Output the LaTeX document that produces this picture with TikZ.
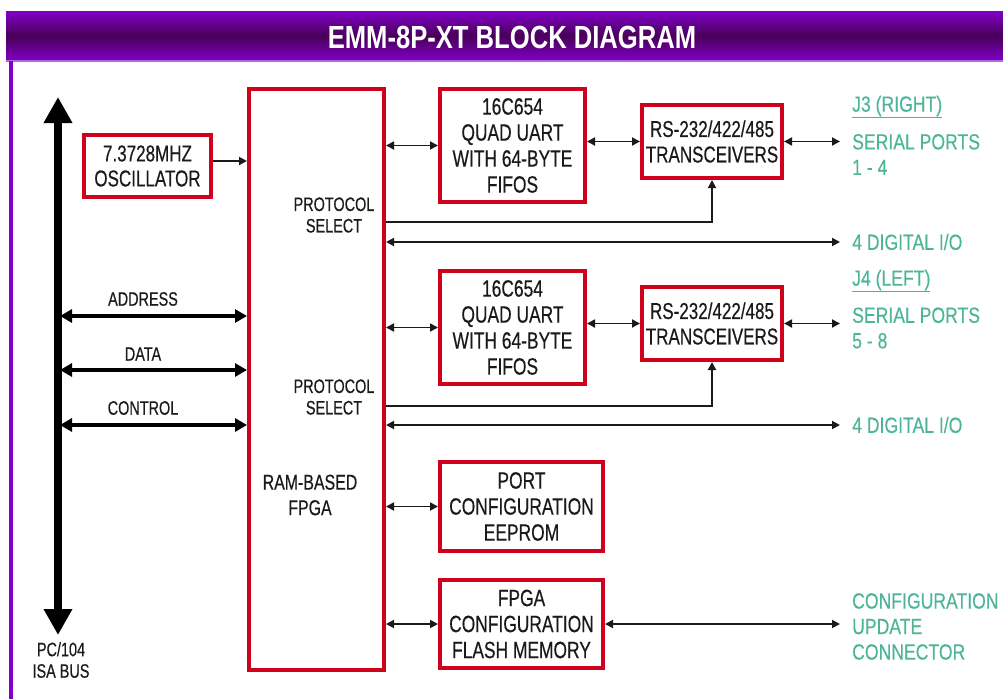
\documentclass[tikz,border=0pt]{standalone}
\usepackage{fontspec}
\setmainfont{Liberation Sans}[FakeStretch=0.74, FakeBold=0.4]
\newfontfamily\titlefont{Liberation Sans}[FakeStretch=0.8]
\newfontfamily\tealfont{Liberation Sans}[FakeStretch=0.8, FakeBold=0.3]
\usetikzlibrary{arrows.meta}
\definecolor{bred}{HTML}{D0021B}
\definecolor{tealtxt}{HTML}{4DB597}
\definecolor{hpurple}{HTML}{8200C8}
\definecolor{hdark}{HTML}{480058}
\definecolor{txt}{HTML}{1A1A1A}
\tikzset{
  blk/.style={draw=bred, line width=4pt, fill=white, inner sep=0pt, align=center,
    font=\fontsize{23.5}{26}\selectfont, text=txt},
  sig/.style={line width=1.8pt, draw=txt, {Triangle[length=8pt,width=8pt]}-{Triangle[length=8pt,width=8pt]}},
  sigone/.style={line width=1.8pt, draw=txt, -{Triangle[length=8pt,width=8pt]}},
  busline/.style={line width=4pt, draw=black, {Triangle[length=12pt,width=13pt]}-{Triangle[length=12pt,width=13pt]}},
  isabus/.style={line width=8pt, draw=black, {Triangle[length=26pt,width=27pt]}-{Triangle[length=26pt,width=27pt]}},
  lbl/.style={font=\fontsize{19.5}{21.5}\selectfont, text=txt, align=center, inner sep=0pt},
  ext/.style={font=\tealfont\fontsize{22}{25.5}\selectfont, text=tealtxt, anchor=west, align=left, inner sep=0pt},
}
\begin{document}
\begin{tikzpicture}[x=1pt,y=-1pt]
\useasboundingbox (0,0) rectangle (1003,699);
% header
\shade[top color=hpurple, bottom color=hpurple, middle color=hdark] (6,11) rectangle (1003,61);
\fill[hpurple!60!white] (6,60) rectangle (1003,62);
\fill[hpurple] (9,61) rectangle (13,699);
\node[font=\titlefont\bfseries\fontsize{32}{36}\selectfont, text=white] (title) at (512,37) {EMM-8P-XT BLOCK DIAGRAM};

% blocks
\node[blk, minimum width=127pt, minimum height=62pt, font=\fontsize{23}{25}\selectfont] (osc) at (147.5,166) {7.3728MHZ\\OSCILLATOR};
\node[blk, minimum width=135pt, minimum height=581pt] (fpga) at (316.5,379.5) {};
\node[blk, minimum width=145pt, minimum height=113pt] (uart1) at (512.5,145.5) {16C654\\QUAD UART\\WITH 64-BYTE\\FIFOS};
\node[blk, minimum width=140pt, minimum height=73pt, font=\fontsize{23}{25.5}\selectfont] (trans1) at (712,141.5) {RS-232/422/485\\TRANSCEIVERS};
\node[blk, minimum width=145pt, minimum height=113pt] (uart2) at (512.5,327.5) {16C654\\QUAD UART\\WITH 64-BYTE\\FIFOS};
\node[blk, minimum width=140pt, minimum height=73pt, font=\fontsize{23}{25.5}\selectfont] (trans2) at (712,323.5) {RS-232/422/485\\TRANSCEIVERS};
\node[blk, minimum width=163pt, minimum height=89pt] (eeprom) at (521.5,506.5) {PORT\\CONFIGURATION\\EEPROM};
\node[blk, minimum width=163pt, minimum height=88pt] (flash) at (521.5,624) {FPGA\\CONFIGURATION\\FLASH MEMORY};

% FPGA inner texts
\node[lbl] (ps1t) at (334,215) {PROTOCOL\\SELECT};
\node[lbl] (ps2t) at (334,397) {PROTOCOL\\SELECT};
\node[lbl, font=\fontsize{21.5}{25.5}\selectfont] (fpgat) at (310,495) {RAM-BASED\\FPGA};

% ISA bus
\coordinate (bustop) at (58,97);
\coordinate (busbot) at (58,635);
\draw[isabus] (bustop) -- (busbot);
\node[lbl] (isal) at (61,660) {PC/104\\ISA BUS};

\coordinate (addr) at (60,316);
\coordinate (data) at (60,370);
\coordinate (ctrl) at (60,425);
\draw[busline] (addr) -- (fpga.west |- addr);
\draw[busline] (data) -- (fpga.west |- data);
\draw[busline] (ctrl) -- (fpga.west |- ctrl);
\node[lbl] (addrl) at (143,299) {ADDRESS};
\node[lbl] (datal) at (143,354) {DATA};
\node[lbl] (ctrll) at (143,408) {CONTROL};

% oscillator
\draw[sigone] (osc.east |- 0,161) -- (fpga.west |- 0,161);

% channel 1
\draw[sig] (fpga.east |- uart1.west) -- (uart1.west);
\draw[sig] (uart1.east |- trans1.west) -- (trans1.west);
\coordinate (sp1) at (840,141.5);
\draw[sig] (trans1.east) -- (sp1);
\coordinate (ps1) at (386,222);
\draw[sigone] (fpga.east |- ps1) -| (trans1.south);
\coordinate (dio1) at (840,242);
\draw[sig] (fpga.east |- dio1) -- (dio1);

% channel 2
\draw[sig] (fpga.east |- uart2.west) -- (uart2.west);
\draw[sig] (uart2.east |- trans2.west) -- (trans2.west);
\coordinate (sp2) at (840,323.5);
\draw[sig] (trans2.east) -- (sp2);
\coordinate (ps2) at (386,406);
\draw[sigone] (fpga.east |- ps2) -| (trans2.south);
\coordinate (dio2) at (840,425);
\draw[sig] (fpga.east |- dio2) -- (dio2);

% memory
\draw[sig] (fpga.east |- eeprom.west) -- (eeprom.west);
\draw[sig] (fpga.east |- flash.west) -- (flash.west);
\coordinate (cfg) at (840,624);
\draw[sig] (flash.east) -- (cfg);

% external labels
\node[ext] (j3) at (852,107) {\underline{J3 (RIGHT)}};
\node[ext] (sp1l) at (852,154.5) {SERIAL PORTS\\1 - 4};
\node[ext] (dio1l) at (852,242) {4 DIGITAL I/O};
\node[ext] (j4) at (852,281) {\underline{J4 (LEFT)}};
\node[ext] (sp2l) at (852,328) {SERIAL PORTS\\5 - 8};
\node[ext] (dio2l) at (852,425) {4 DIGITAL I/O};
\node[ext] (cfgl) at (852,626.5) {CONFIGURATION\\UPDATE\\CONNECTOR};
\end{tikzpicture}
\end{document}
